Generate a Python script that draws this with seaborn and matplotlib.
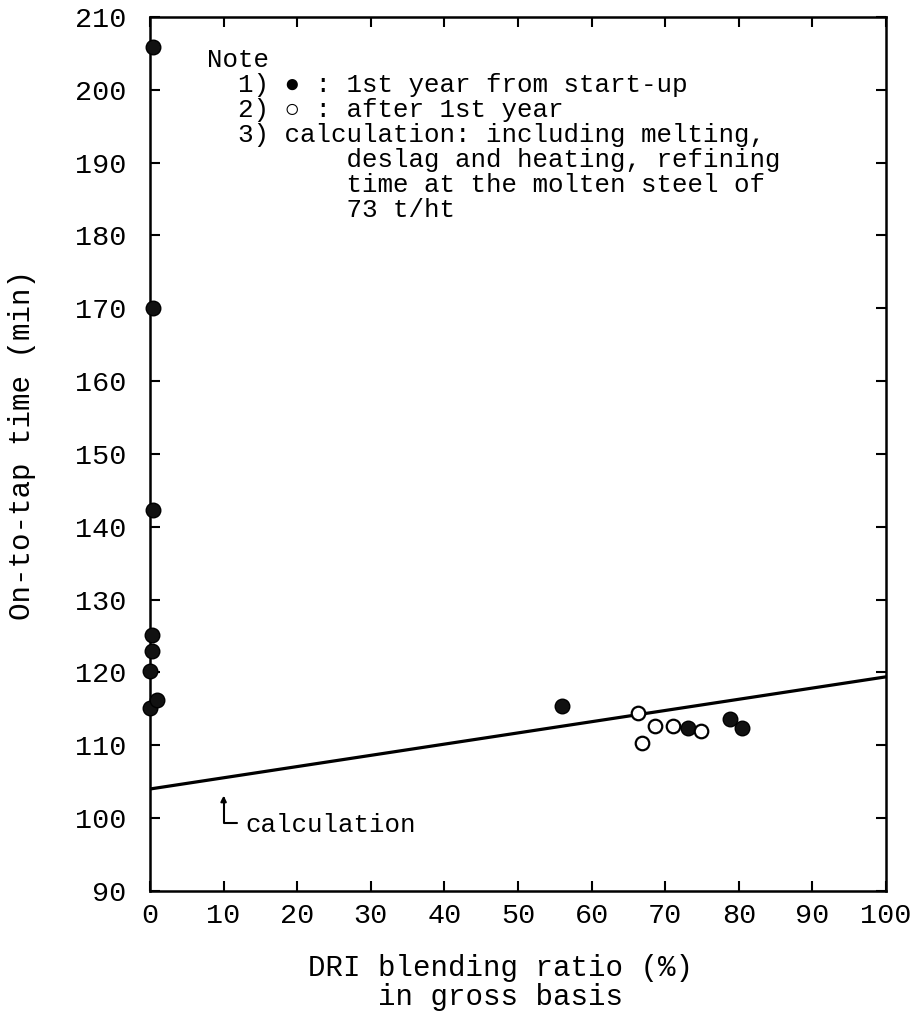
import matplotlib
matplotlib.use('Agg')
import matplotlib.pyplot as plt
import numpy as np
import seaborn as sns
import pandas as pd

# values
first_year_x = [0.4, 0.4, 0.4, 0.3, 0.3, 0.0, 0.0, 1.0, 56.0, 73.1, 78.8, 80.5]
first_year_y = [205.9, 170.0, 142.3, 125.1, 122.9, 120.2, 115.1, 116.2, 115.4, 112.4, 113.6, 112.4]
after_x = [66.3, 68.6, 66.9, 71.0, 74.9]
after_y = [114.4, 112.7, 110.3, 112.7, 111.9]
calc_x = [0, 100]
calc_y = [104.0, 119.4]
x_ticks = list(range(0, 101, 10))
y_ticks = list(range(90, 211, 10))

note_lines = [
    "Note",
    "  1) \u25cf : 1st year from start-up",
    "  2) \u25cb : after 1st year",
    "  3) calculation: including melting,",
    "         deslag and heating, refining",
    "         time at the molten steel of",
    "         73 t/ht",
]

sns.set_style("ticks")
plt.rcParams['font.family'] = ['Liberation Mono', 'DejaVu Sans Mono']
plt.rcParams['text.color'] = 'black'
plt.rcParams['axes.labelcolor'] = 'black'
plt.rcParams['xtick.color'] = 'black'
plt.rcParams['ytick.color'] = 'black'

fig = plt.figure(figsize=(9.19, 10.15), dpi=100)
ax = fig.add_axes([0.1632, 0.1222, 0.8009, 0.8611])

first = pd.DataFrame({'x': first_year_x, 'y': first_year_y})
after = pd.DataFrame({'x': after_x, 'y': after_y})
calc = pd.DataFrame({'x': calc_x, 'y': calc_y})

sns.lineplot(data=calc, x='x', y='y', color='black', lw=2.3, ax=ax)
sns.scatterplot(data=first, x='x', y='y', color='#111111', edgecolor='black',
                s=110, linewidth=1.0, clip_on=False, zorder=5, ax=ax)
sns.scatterplot(data=after, x='x', y='y', facecolor='white', edgecolor='black',
                s=95, linewidth=1.6, clip_on=False, zorder=5, ax=ax)

ax.set_xlim(0, 100)
ax.set_ylim(90, 210)
ax.set_xticks(x_ticks)
ax.set_yticks(y_ticks)

for s in ax.spines.values():
    s.set_linewidth(1.8)
    s.set_color('black')

ax.tick_params(direction='in', top=True, right=True, length=7, width=1.5,
               labelsize=20.5)
ax.tick_params(axis='x', pad=9)
ax.tick_params(axis='y', pad=17)

ax.set_xlabel("DRI blending ratio (%)\nin gross basis", fontsize=21,
              linespacing=1.05)
ax.xaxis.set_label_coords(0.476, -0.072)
ax.set_ylabel("On-to-tap time (min)", fontsize=21)
ax.yaxis.set_label_coords(-0.155, 0.51)

ax.text(7.7, 205.8, "\n".join(note_lines), fontsize=18.6, va='top', ha='left',
        linespacing=1.06)

ax.annotate('', xy=(10, 103.1), xytext=(11.8, 99.3),
            arrowprops=dict(arrowstyle='-|>', connectionstyle='angle,angleA=0,angleB=90',
                            color='black', lw=1.5, mutation_scale=8,
                            shrinkA=0, shrinkB=0))
ax.text(12.9, 98.1, "calculation", fontsize=18.6, va='baseline', ha='left')

fig.savefig('out.png', dpi=100)
